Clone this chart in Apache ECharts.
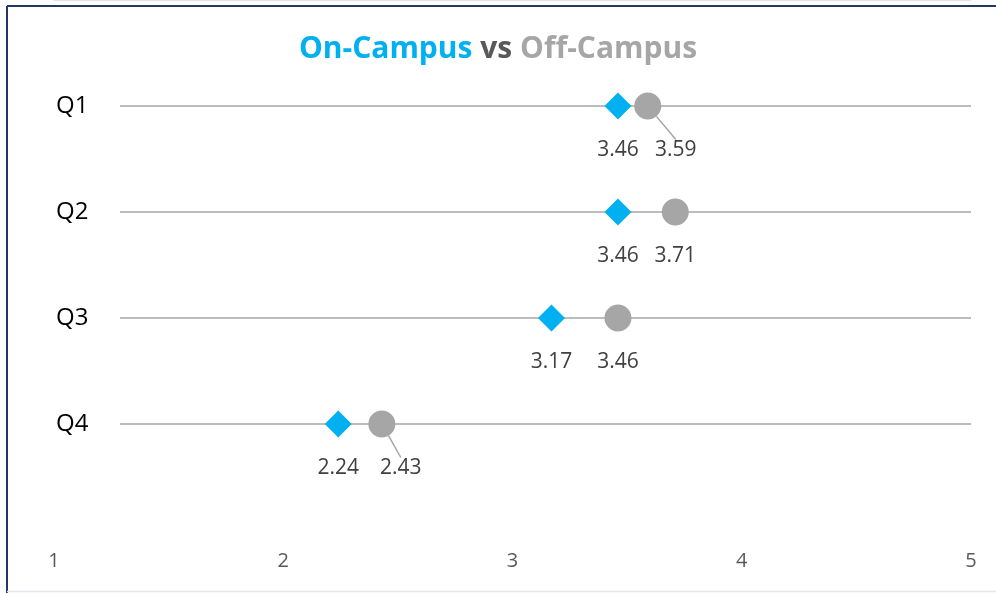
<!DOCTYPE html>
<html>
<head>
<meta charset="utf-8">
<script src="https://cdn.jsdelivr.net/npm/echarts@6/dist/echarts.min.js"></script>
<style>
html,body{margin:0;padding:0;background:#fff;}
#chart{width:996px;height:593px;}
</style>
</head>
<body>
<div id="chart"></div>
<script>
const categories = ['Q1', 'Q2', 'Q3', 'Q4'];
const onCampus = [3.46, 3.46, 3.17, 2.24];
const offCampus = [3.59, 3.71, 3.46, 2.43];
const xTicks = [1, 2, 3, 4, 5];

const FONT = '"Open Sans", "Noto Sans", sans-serif';
const chart = echarts.init(document.getElementById('chart'));

// label shifts (style only) for labels that would otherwise collide
const offLabelShift = { 0: 28, 3: 19 };

const onData = onCampus.map((v, i) => [v, i + 1]);
const offData = offCampus.map((v, i) => ({
  value: [v, i + 1],
  labelLine: { show: offLabelShift[i] !== undefined }
}));
const lineData = categories.map((c, i) => [i + 1]);

chart.setOption({
  animation: false,
  textStyle: { fontFamily: FONT },
  title: {
    text: '{a|On-Campus }{b|vs }{c|Off-Campus}',
    left: 'center',
    top: 29,
    textStyle: {
      rich: {
        a: { color: '#00B0F0', fontSize: 30, fontWeight: 'bold', fontFamily: FONT },
        b: { color: '#595959', fontSize: 30, fontWeight: 'bold', fontFamily: FONT },
        c: { color: '#A6A6A6', fontSize: 30, fontWeight: 'bold', fontFamily: FONT }
      }
    }
  },
  graphic: [
    { type: 'line', shape: { x1: 7, y1: 6, x2: 996, y2: 6 }, style: { stroke: '#203864', lineWidth: 2 }, silent: true },
    { type: 'line', shape: { x1: 7, y1: 6, x2: 7, y2: 593 }, style: { stroke: '#203864', lineWidth: 2 }, silent: true },
    { type: 'line', shape: { x1: 7, y1: 591.5, x2: 996, y2: 591.5 }, style: { stroke: '#e6e6ee', lineWidth: 1.5 }, silent: true }
  ],
  grid: { left: 54, right: 25, top: 0, bottom: 63 },
  xAxis: {
    type: 'value',
    min: xTicks[0],
    max: xTicks[xTicks.length - 1],
    interval: 1,
    axisLine: { show: true, lineStyle: { color: '#d9d9d9', width: 1.5 } },
    axisTick: { show: false },
    splitLine: { show: false },
    axisLabel: {
      color: '#595959',
      fontSize: 20,
      margin: 21,
      fontFamily: FONT,
      formatter: v => String(v)
    }
  },
  yAxis: {
    type: 'value',
    inverse: true,
    min: 0,
    max: 5,
    interval: 1,
    axisLine: { show: false },
    axisTick: { show: false },
    splitLine: { show: false },
    axisLabel: {
      inside: true,
      margin: 2,
      color: '#000',
      fontSize: 24,
      fontFamily: FONT,
      formatter: v => categories[v - 1] || ''
    }
  },
  series: [
    {
      type: 'custom',
      silent: true,
      z: 1,
      data: lineData,
      encode: { y: 0 },
      renderItem: function (params, api) {
        const y = api.value(0);
        const p1 = api.coord([xTicks[0], y]);
        const p2 = api.coord([xTicks[xTicks.length - 1], y]);
        return {
          type: 'line',
          shape: { x1: p1[0] + 66, y1: p1[1], x2: p2[0], y2: p2[1] },
          style: { stroke: '#a6a6a6', lineWidth: 1.5 }
        };
      }
    },
    {
      name: 'Off-Campus',
      type: 'scatter',
      symbol: 'circle',
      symbolSize: 27,
      z: 3,
      itemStyle: { color: '#A6A6A6', opacity: 1 },
      data: offData,
      label: {
        show: true,
        position: 'bottom',
        distance: 20,
        color: '#404040',
        fontSize: 21,
        fontFamily: FONT,
        formatter: p => p.value[0].toFixed(2)
      },
      labelLine: { lineStyle: { color: '#a6a6a6', width: 1.5 } },
      labelLayout: function (params) {
        const dx = offLabelShift[params.dataIndex];
        return dx !== undefined ? { dx: dx } : {};
      }
    },
    {
      name: 'On-Campus',
      type: 'scatter',
      symbol: 'diamond',
      symbolSize: [27, 27],
      z: 4,
      itemStyle: { color: '#00B0F0', opacity: 1 },
      data: onData,
      label: {
        show: true,
        position: 'bottom',
        distance: 20,
        color: '#404040',
        fontSize: 21,
        fontFamily: FONT,
        formatter: p => p.value[0].toFixed(2)
      }
    }
  ]
});
</script>
</body>
</html>
